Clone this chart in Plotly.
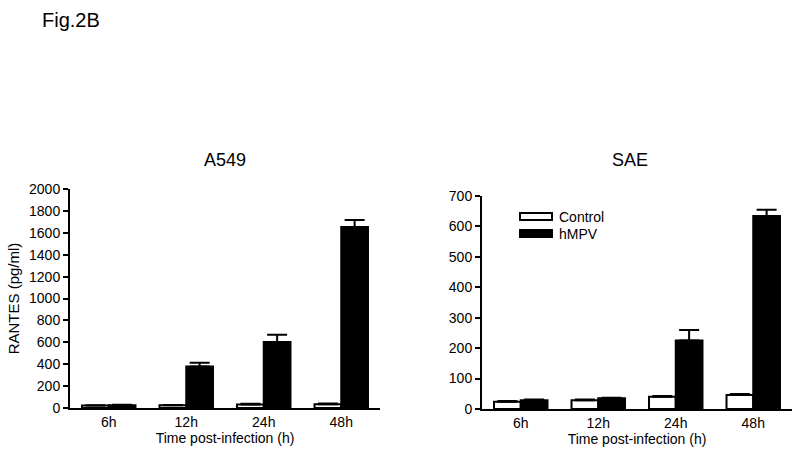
import plotly.graph_objects as go

categories = ["6h", "12h", "24h", "48h"]
a549_control = [22, 24, 33, 35]
a549_control_err = [4, 4, 5, 5]
a549_hmpv = [25, 378, 603, 1652]
a549_hmpv_err = [5, 36, 67, 65]
sae_control = [24, 29, 40, 46]
sae_control_err = [2, 2, 3, 3]
sae_hmpv = [29, 35, 225, 634]
sae_hmpv_err = [2, 2, 35, 21]
a549_ticks = list(range(0, 2001, 200))
sae_ticks = list(range(0, 701, 100))

FONT = "Liberation Sans, Arial, sans-serif"
fig = go.Figure()

def add_pair(ctrl, ctrl_err, hm, hm_err, xa, ya):
    fig.add_trace(go.Bar(x=categories, y=ctrl, name="Control", xaxis=xa, yaxis=ya,
                         marker=dict(color="white", line=dict(color="black", width=2)),
                         error_y=dict(type="data", array=ctrl_err, symmetric=False,
                                      arrayminus=[0]*4, color="black", thickness=2, width=10),
                         showlegend=False))
    fig.add_trace(go.Bar(x=categories, y=hm, name="hMPV", xaxis=xa, yaxis=ya,
                         marker=dict(color="black", line=dict(color="black", width=2)),
                         error_y=dict(type="data", array=hm_err, symmetric=False,
                                      arrayminus=[0]*4, color="black", thickness=2, width=10),
                         showlegend=False))

add_pair(a549_control, a549_control_err, a549_hmpv, a549_hmpv_err, "x", "y")
add_pair(sae_control, sae_control_err, sae_hmpv, sae_hmpv_err, "x2", "y2")

xcommon = dict(showline=True, linecolor="black", linewidth=2, ticks="", showgrid=False,
               zeroline=False, tickfont=dict(family=FONT, size=14, color="black"),
               range=[-0.5, 3.5], fixedrange=True, automargin=False)
ycommon = dict(showline=True, linecolor="black", linewidth=2, ticks="outside", ticklen=5,
               tickwidth=2, tickcolor="black", showgrid=False, zeroline=False,
               tickfont=dict(family=FONT, size=14, color="black"), automargin=False)

fig.update_layout(
    width=800, height=455,
    margin=dict(l=0, r=0, t=0, b=0, autoexpand=False),
    paper_bgcolor="white", plot_bgcolor="white",
    barmode="group", bargap=0.31, bargroupgap=0,
    font=dict(family=FONT, color="black"),
    xaxis=dict(domain=[0.0875, 0.475], anchor="y",
               title=dict(text="Time post-infection (h)", font=dict(family=FONT, size=14), standoff=4),
               **xcommon),
    yaxis=dict(domain=[0.1033, 0.5846], anchor="x", range=[0, 2000], tickvals=a549_ticks,
               title=dict(text="RANTES (pg/ml)", font=dict(family=FONT, size=15), standoff=6),
               **ycommon),
    xaxis2=dict(domain=[0.6025, 0.99], anchor="y2",
                title=dict(text="Time post-infection (h)", font=dict(family=FONT, size=14), standoff=4),
                **xcommon),
    yaxis2=dict(domain=[0.1011, 0.5692], anchor="x2", range=[0, 700], tickvals=sae_ticks,
                **ycommon),
)

fig.add_annotation(text="A549", x=225/800, y=1-160/455, xref="paper", yref="paper", showarrow=False,
                   font=dict(family=FONT, size=18), xanchor="center", yanchor="middle")
fig.add_annotation(text="SAE", x=630/800, y=1-160/455, xref="paper", yref="paper", showarrow=False,
                   font=dict(family=FONT, size=18), xanchor="center", yanchor="middle")
fig.add_annotation(text="Fig.2B", x=40/800, y=1-20/455, xref="paper", yref="paper", showarrow=False,
                   font=dict(family=FONT, size=20), xanchor="left", yanchor="middle")

# legend (manual)
fig.add_shape(type="rect", xref="paper", yref="paper", x0=520/800, x1=552/800,
              y0=1-220/455, y1=1-213/455, fillcolor="white", line=dict(color="black", width=2))
fig.add_shape(type="rect", xref="paper", yref="paper", x0=520/800, x1=552/800,
              y0=1-237/455, y1=1-230/455, fillcolor="black", line=dict(color="black", width=2))
fig.add_annotation(text="Control", x=557/800, y=1-217/455, xref="paper", yref="paper",
                   showarrow=False, xanchor="left", yanchor="middle", font=dict(family=FONT, size=14))
fig.add_annotation(text="hMPV", x=557/800, y=1-234/455, xref="paper", yref="paper",
                   showarrow=False, xanchor="left", yanchor="middle", font=dict(family=FONT, size=14))

fig.write_html("out.html", config={"displayModeBar": False},
               post_script="document.body.style.margin='0';document.body.style.overflow='hidden';")
